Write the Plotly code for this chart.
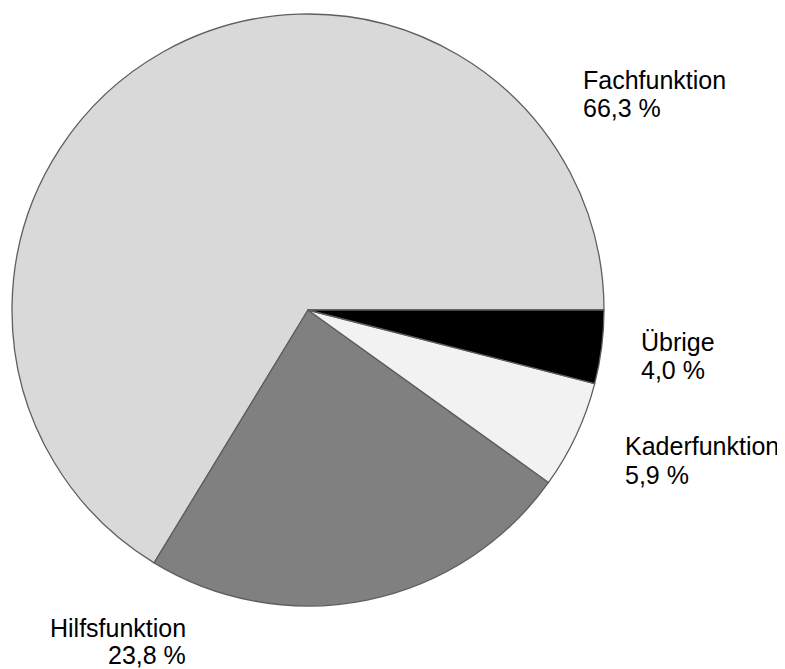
import plotly.graph_objects as go

labels = ["Fachfunktion", "Hilfsfunktion", "Kaderfunktion", "Übrige"]
values = [66.3, 23.8, 5.9, 4.0]
colors = ["#d9d9d9", "#808080", "#f2f2f2", "#000000"]

W, H = 785, 669
OFF = 8  # page body margin of the browser
FW, FH = W - OFF, H - OFF

# Plotly places the first slice clockwise of `rotation` when direction is ccw,
# so rotate such that the first slice starts at 3 o'clock going counterclockwise.
first_deg = values[0] / sum(values) * 360
rot = 90 - first_deg

def px(x):
    return (x - OFF) / FW

def py(y):
    return 1 - (y - OFF) / FH

fig = go.Figure(go.Pie(
    labels=labels, values=values, sort=False,
    direction="counterclockwise", rotation=rot,
    marker=dict(colors=colors, line=dict(color="#5e5e5e", width=1.3)),
    textinfo="none", hoverinfo="label+percent",
    domain=dict(x=[px(12), px(604)], y=[py(606), py(14)]),
    showlegend=False,
))

# label placement (pixel positions of text line centres)
label_pos = {
    "Fachfunktion": (582, 80.5, 107.5, "left"),
    "Hilfsfunktion": (187, 627.5, 654.5, "right"),
    "Kaderfunktion": (624, 446, 475, "left"),
    "Übrige": (640, 342.5, 369.5, "left"),
}

font = dict(family="Liberation Sans, Arial, sans-serif", size=25, color="#000000")
for lab, val in zip(labels, values):
    x, y1, y2, anchor = label_pos[lab]
    pct = f"{val:.1f}".replace(".", ",") + " %"
    for txt, yy in ((lab, y1), (pct, y2)):
        fig.add_annotation(
            text=txt, x=px(x), y=py(yy), xref="paper", yref="paper",
            xanchor=anchor, yanchor="middle", showarrow=False, font=font,
            borderpad=0,
        )

fig.update_layout(
    width=FW, height=FH,
    margin=dict(l=0, r=0, t=0, b=0),
    paper_bgcolor="white", plot_bgcolor="white",
)

fig.write_html("out.html")
